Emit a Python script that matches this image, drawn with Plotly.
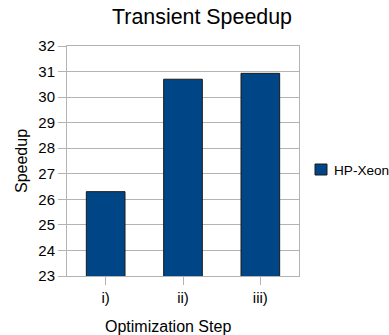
import plotly.graph_objects as go

steps = ["i)", "ii)", "iii)"]
speedup = [26.3, 30.7, 30.93]
series_name = "HP-Xeon"

FONT = "Liberation Sans, Arial, sans-serif"
GRID = "#b3b3b3"
BAR = "#004586"
EDGE = "#1a1a1a"

# plot area geometry (pixels)
L, R, T, B = 67, 90, 46, 59
W, H = 389, 335
PW, PH = W - L - R, H - T - B


def px_x(x):
    return (x - L) / PW


def px_y(y):
    return (H - B - y) / PH


fig = go.Figure()
fig.add_trace(go.Bar(
    x=steps, y=speedup, name=series_name,
    marker=dict(color=BAR, line=dict(color=EDGE, width=1)),
    showlegend=False,
))

# legend key: swatch + label
fig.add_shape(type="rect", xref="paper", yref="paper",
              x0=px_x(315), x1=px_x(327), y0=px_y(175), y1=px_y(164),
              fillcolor=BAR, line=dict(color=EDGE, width=1))

fig.update_layout(
    width=W, height=H,
    margin=dict(l=L, r=R, t=T, b=B),
    paper_bgcolor="white", plot_bgcolor="white",
    font=dict(family=FONT, size=15, color="black"),
    bargap=0.5,
    showlegend=False,
    title=dict(text="Transient Speedup", x=202 / W,
               xanchor="center", xref="container",
               y=1 - 17 / H, yanchor="middle", yref="container",
               font=dict(family=FONT, size=21.4, color="black")),
    xaxis=dict(
        type="category", range=[-0.5, 2.5],
        showgrid=False, showline=True, linecolor=GRID, mirror=True,
        ticks="outside", ticklen=8, tickcolor=GRID,
        tickfont=dict(family=FONT, size=15), fixedrange=True,
    ),
    yaxis=dict(
        range=[23, 32], dtick=1, tick0=23,
        showgrid=True, gridcolor=GRID, gridwidth=1,
        showline=True, linecolor=GRID, mirror=True,
        ticks="outside", ticklen=8, tickcolor=GRID,
        tickfont=dict(family=FONT, size=15), zeroline=False,
    ),
    annotations=[
        dict(text=series_name, xref="paper", yref="paper",
             x=px_x(332), y=px_y(170), xanchor="left", yanchor="middle",
             showarrow=False, font=dict(family=FONT, size=13.6)),
        dict(text="Speedup", xref="paper", yref="paper",
             x=px_x(21), y=0.5, xanchor="center", yanchor="middle",
             textangle=-90, showarrow=False, font=dict(family=FONT, size=16)),
        dict(text="Optimization Step", xref="paper", yref="paper",
             x=px_x(168), y=px_y(326), xanchor="center",
             yanchor="middle", showarrow=False, font=dict(family=FONT, size=16)),
    ],
)

fig.write_html("out.html")
